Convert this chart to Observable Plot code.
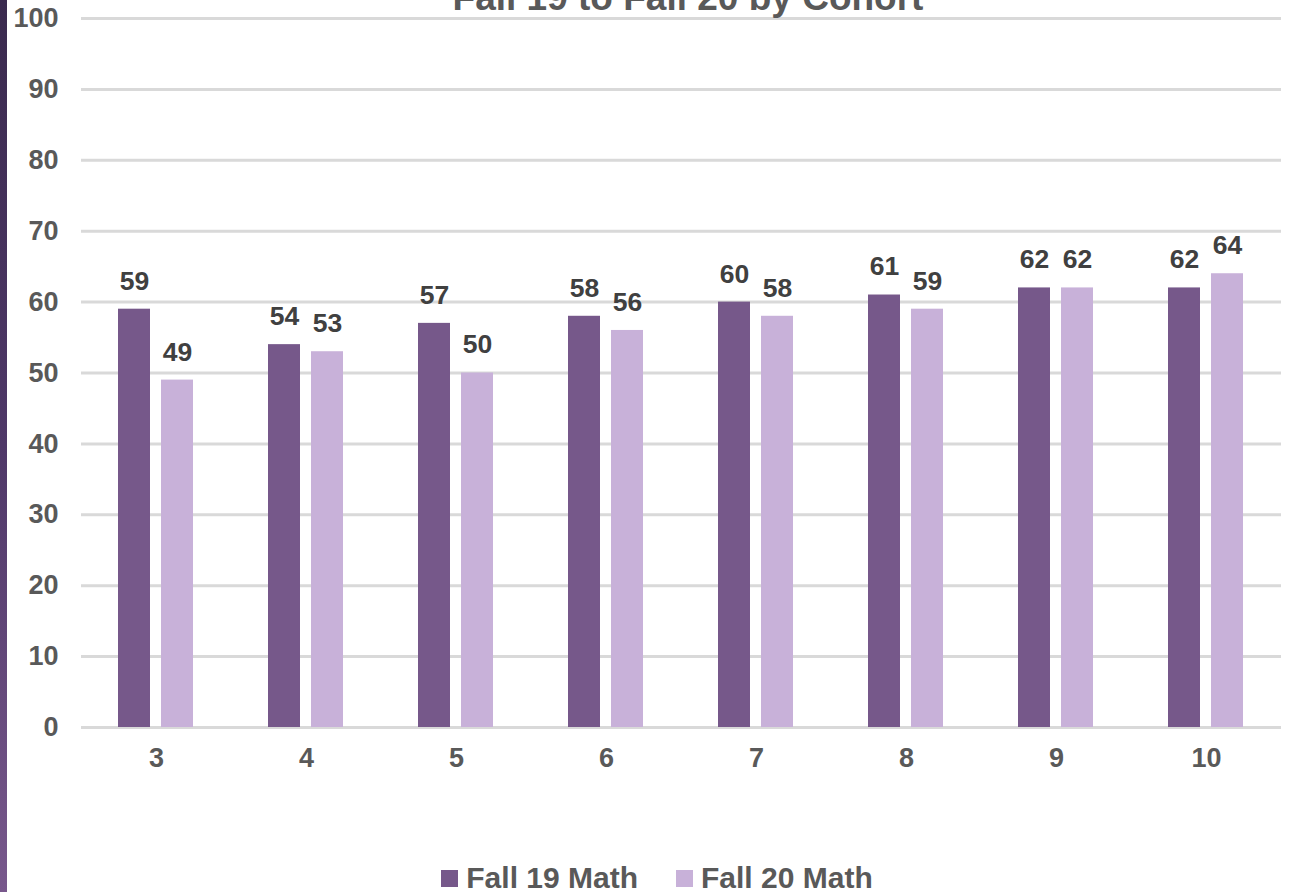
<!DOCTYPE html>
<html>
<head>
<meta charset="utf-8">
<script src="https://cdn.jsdelivr.net/npm/d3@7"></script>
<script src="https://cdn.jsdelivr.net/npm/@observablehq/plot@0.6"></script>
<style>
  html, body { margin: 0; padding: 0; background: #fff; width: 1292px; height: 892px; overflow: hidden; }
  #wrap { position: relative; width: 1292px; height: 892px; font-family: "Liberation Sans", Arial, sans-serif; }
  #strip { position: absolute; left: 0; top: 0; width: 7px; height: 892px; background: linear-gradient(to bottom, #3a2a4e 0%, #4f3868 50%, #78588c 100%); }
  #title { position: absolute; left: 688px; top: -21px; transform: translateX(-50%); white-space: nowrap; font-size: 37px; line-height: 37px; font-weight: bold; color: #595959; }
  #chart { position: absolute; left: 0; top: 0; }
  #legend { position: absolute; left: 22px; top: 864px; width: 1270px; display: flex; justify-content: center; font-size: 30px; line-height: 28px; font-weight: bold; color: #595959; }
  .item { display: flex; align-items: center; margin: 0 19px; }
  .sw { width: 17px; height: 17px; margin-right: 8px; display: inline-block; }
</style>
</head>
<body>
<div id="wrap">
  <div id="strip"></div>
  <div id="chart"></div>
  <div id="title"></div>
  <div id="legend"></div>
</div>
<script>
const titleText = "Fall 19 to Fall 20 by Cohort";
const grades = [3, 4, 5, 6, 7, 8, 9, 10];
const fall19 = [59, 54, 57, 58, 60, 61, 62, 62];
const fall20 = [49, 53, 50, 56, 58, 59, 62, 64];
const seriesNames = ["Fall 19 Math", "Fall 20 Math"];
const seriesColors = ["#76588a", "#c8b1d9"];
const yTicks = [0, 10, 20, 30, 40, 50, 60, 70, 80, 90, 100];

const data = [];
grades.forEach((g, i) => {
  data.push({grade: g, series: seriesNames[0], value: fall19[i]});
  data.push({grade: g, series: seriesNames[1], value: fall20[i]});
});

document.getElementById("title").textContent = titleText;

const chart = Plot.plot({
  width: 1292,
  height: 800,
  marginLeft: 79,
  marginRight: 10,
  marginTop: 18,
  marginBottom: 73,
  style: {fontFamily: "'Liberation Sans', Arial, sans-serif", fontSize: "27px", fontWeight: "bold", color: "#595959", background: "transparent"},
  fx: {domain: grades, padding: 0, label: null, tickSize: 0, tickPadding: 20, axis: "bottom"},
  x: {domain: seriesNames, axis: null, paddingInner: 0.253, paddingOuter: 0.855},
  y: {domain: [0, 100], ticks: yTicks, tickSize: 0, tickPadding: 23, label: null},
  color: {domain: seriesNames, range: seriesColors},
  marks: [
    Plot.ruleY(yTicks, {stroke: "#d9d9d9", strokeWidth: 3}),
    Plot.barY(data, {fx: "grade", x: "series", y: "value", fill: "series"}),
    Plot.text(data, {fx: "grade", x: "series", y: "value", text: d => String(d.value), dy: -28, fill: "#404040", fontSize: 26.5, fontWeight: "bold"})
  ]
});
document.getElementById("chart").appendChild(chart);

const legend = document.getElementById("legend");
seriesNames.forEach((name, i) => {
  const item = document.createElement("div");
  item.className = "item";
  const sw = document.createElement("span");
  sw.className = "sw";
  sw.style.background = seriesColors[i];
  const label = document.createElement("span");
  label.textContent = name;
  item.appendChild(sw);
  item.appendChild(label);
  legend.appendChild(item);
});
</script>
</body>
</html>
